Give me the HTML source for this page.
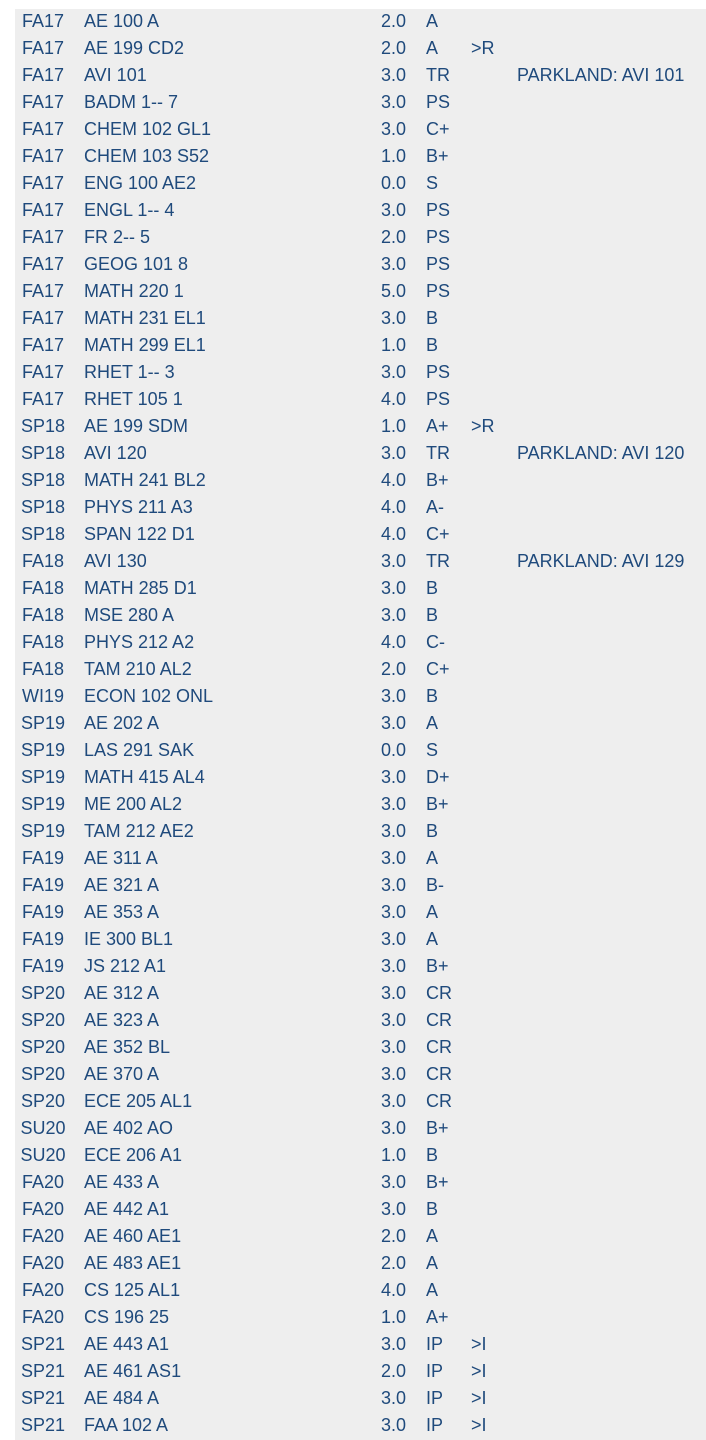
<!DOCTYPE html>
<html><head><meta charset="utf-8"><style>
body{margin:0;width:706px;height:1440px;background:#fff;overflow:hidden;font-family:"Liberation Sans",Arial,sans-serif;}
#panel{position:absolute;left:15px;top:9px;width:691px;height:1431px;background:#eeeeee;}
.row{position:absolute;left:0;width:706px;height:27px;line-height:27px;font-size:18px;color:#1f4a7c;}
.row span{position:absolute;top:0;white-space:nowrap;}
.t{left:15px;width:56px;text-align:center}
.c{left:84px}.u{left:381px}.g{left:426px}.f{left:471px}.n{left:517px}
</style></head><body>
<div id="panel"></div>
<div id="rows"></div>
<script>
const rows=[
["FA17","AE 100 A","2.0","A","",""],["FA17","AE 199 CD2","2.0","A",">R",""],["FA17","AVI 101","3.0","TR","","PARKLAND: AVI 101"],
["FA17","BADM 1-- 7","3.0","PS","",""],["FA17","CHEM 102 GL1","3.0","C+","",""],["FA17","CHEM 103 S52","1.0","B+","",""],
["FA17","ENG 100 AE2","0.0","S","",""],["FA17","ENGL 1-- 4","3.0","PS","",""],["FA17","FR 2-- 5","2.0","PS","",""],
["FA17","GEOG 101 8","3.0","PS","",""],["FA17","MATH 220 1","5.0","PS","",""],["FA17","MATH 231 EL1","3.0","B","",""],
["FA17","MATH 299 EL1","1.0","B","",""],["FA17","RHET 1-- 3","3.0","PS","",""],["FA17","RHET 105 1","4.0","PS","",""],
["SP18","AE 199 SDM","1.0","A+",">R",""],["SP18","AVI 120","3.0","TR","","PARKLAND: AVI 120"],["SP18","MATH 241 BL2","4.0","B+","",""],
["SP18","PHYS 211 A3","4.0","A-","",""],["SP18","SPAN 122 D1","4.0","C+","",""],["FA18","AVI 130","3.0","TR","","PARKLAND: AVI 129"],
["FA18","MATH 285 D1","3.0","B","",""],["FA18","MSE 280 A","3.0","B","",""],["FA18","PHYS 212 A2","4.0","C-","",""],
["FA18","TAM 210 AL2","2.0","C+","",""],["WI19","ECON 102 ONL","3.0","B","",""],["SP19","AE 202 A","3.0","A","",""],
["SP19","LAS 291 SAK","0.0","S","",""],["SP19","MATH 415 AL4","3.0","D+","",""],["SP19","ME 200 AL2","3.0","B+","",""],
["SP19","TAM 212 AE2","3.0","B","",""],["FA19","AE 311 A","3.0","A","",""],["FA19","AE 321 A","3.0","B-","",""],
["FA19","AE 353 A","3.0","A","",""],["FA19","IE 300 BL1","3.0","A","",""],["FA19","JS 212 A1","3.0","B+","",""],
["SP20","AE 312 A","3.0","CR","",""],["SP20","AE 323 A","3.0","CR","",""],["SP20","AE 352 BL","3.0","CR","",""],
["SP20","AE 370 A","3.0","CR","",""],["SP20","ECE 205 AL1","3.0","CR","",""],["SU20","AE 402 AO","3.0","B+","",""],
["SU20","ECE 206 A1","1.0","B","",""],["FA20","AE 433 A","3.0","B+","",""],["FA20","AE 442 A1","3.0","B","",""],
["FA20","AE 460 AE1","2.0","A","",""],["FA20","AE 483 AE1","2.0","A","",""],["FA20","CS 125 AL1","4.0","A","",""],
["FA20","CS 196 25","1.0","A+","",""],["SP21","AE 443 A1","3.0","IP",">I",""],["SP21","AE 461 AS1","2.0","IP",">I",""],
["SP21","AE 484 A","3.0","IP",">I",""],["SP21","FAA 102 A","3.0","IP",">I",""]];
const cls=["t","c","u","g","f","n"];
const names=["term","course","credits","grade","flag","note"];
const box=document.getElementById("rows");
rows.forEach((r,i)=>{
 const d=document.createElement("div");d.className="row";d.style.top=(7.5+27*i)+"px";
 
 
 r.forEach((v,j)=>{ if(!v)return; const s=document.createElement("span");s.className=cls[j];s.textContent=v;
  
  
  d.appendChild(s);});
 box.appendChild(d);
});
</script>
</body></html>
